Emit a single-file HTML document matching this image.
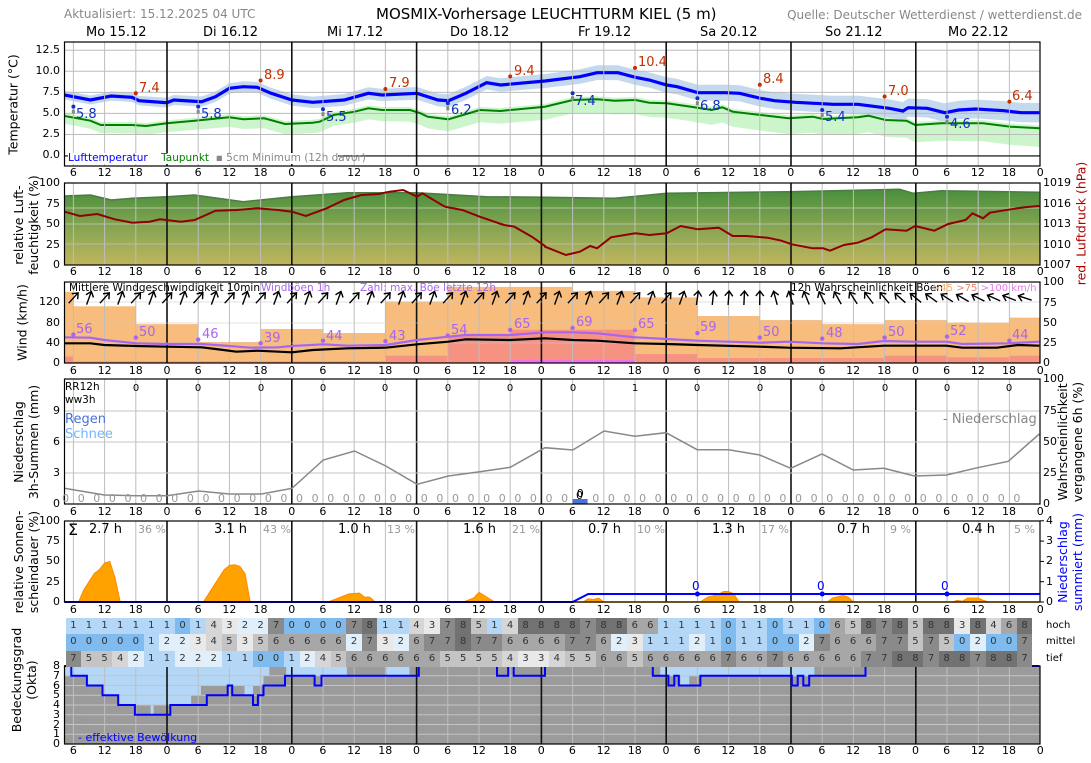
<!DOCTYPE html>
<html><head><meta charset="utf-8">
<style>
body{margin:0;background:#fff;width:1091px;height:763px;overflow:hidden;position:relative;font-family:"DejaVu Sans","Liberation Sans",sans-serif;}
.a{position:absolute;white-space:nowrap;}
.tr{position:absolute;left:57.8px;width:998.4px;display:grid;grid-template-columns:repeat(32,31.2px);text-align:center;font-size:11px;color:#000;line-height:12px;}
.zr{position:absolute;left:57.8px;display:grid;grid-template-columns:repeat(62,15.6px);text-align:center;font-size:11px;color:#999;line-height:12px;}
.cr{position:absolute;left:65.6px;display:grid;grid-template-columns:repeat(62,15.6px);text-align:center;font-size:10px;color:#333;height:16.5px;line-height:16.5px;}
.c0{background:#7fbbee}.c1{background:#b4d7f7}.c2{background:#e0effa}.c3{background:#e9e9e9}.c4{background:#d6d6d6}.c5{background:#c4c4c4}.c6{background:#a7a7a7}.c7{background:#8a8a8a}.c8{background:#727272}
.yl{position:absolute;font-size:11px;text-align:right;width:40px;line-height:12px;}
.yr{position:absolute;font-size:11px;line-height:12px;}
.rot{position:absolute;transform:rotate(-90deg);transform-origin:center center;text-align:center;font-size:12.5px;line-height:15px;white-space:nowrap;}
</style></head><body>
<svg id="s" width="1091" height="763" style="position:absolute;left:0;top:0">
<defs>
<linearGradient id="hg" gradientUnits="userSpaceOnUse" x1="0" y1="190" x2="0" y2="265">
<stop offset="0" stop-color="#4a8f3c"/><stop offset="0.5" stop-color="#86a552"/><stop offset="1" stop-color="#c0b55e"/></linearGradient>
<clipPath id="cp1"><rect x="64.5" y="42" width="975.5" height="114"/></clipPath>
</defs>
<g id="g"></g>
</svg>

<div class="a" style="left:64px;top:7px;font-size:12px;color:#888">Aktualisiert: 15.12.2025 04 UTC</div>
<div class="a" style="left:376px;top:5px;font-size:15px;color:#000">MOSMIX-Vorhersage LEUCHTTURM KIEL (5 m)</div>
<div class="a" style="right:9px;top:8px;font-size:12px;color:#888">Quelle: Deutscher Wetterdienst / wetterdienst.de</div>

<div class="a" style="left:86px;top:25px;font-size:13px">Mo 15.12</div>
<div class="a" style="left:203px;top:25px;font-size:13px">Di 16.12</div>
<div class="a" style="left:327px;top:25px;font-size:13px">Mi 17.12</div>
<div class="a" style="left:450px;top:25px;font-size:13px">Do 18.12</div>
<div class="a" style="left:578px;top:25px;font-size:13px">Fr 19.12</div>
<div class="a" style="left:700px;top:25px;font-size:13px">Sa 20.12</div>
<div class="a" style="left:825px;top:25px;font-size:13px">So 21.12</div>
<div class="a" style="left:948px;top:25px;font-size:13px">Mo 22.12</div>

<div class="tr" style="top:167px"><span>6</span><span>12</span><span>18</span><span>0</span><span>6</span><span>12</span><span>18</span><span>0</span><span>6</span><span>12</span><span>18</span><span>0</span><span>6</span><span>12</span><span>18</span><span>0</span><span>6</span><span>12</span><span>18</span><span>0</span><span>6</span><span>12</span><span>18</span><span>0</span><span>6</span><span>12</span><span>18</span><span>0</span><span>6</span><span>12</span><span>18</span><span>0</span></div>
<div class="tr" style="top:266px"><span>6</span><span>12</span><span>18</span><span>0</span><span>6</span><span>12</span><span>18</span><span>0</span><span>6</span><span>12</span><span>18</span><span>0</span><span>6</span><span>12</span><span>18</span><span>0</span><span>6</span><span>12</span><span>18</span><span>0</span><span>6</span><span>12</span><span>18</span><span>0</span><span>6</span><span>12</span><span>18</span><span>0</span><span>6</span><span>12</span><span>18</span><span>0</span></div>
<div class="tr" style="top:365px"><span>6</span><span>12</span><span>18</span><span>0</span><span>6</span><span>12</span><span>18</span><span>0</span><span>6</span><span>12</span><span>18</span><span>0</span><span>6</span><span>12</span><span>18</span><span>0</span><span>6</span><span>12</span><span>18</span><span>0</span><span>6</span><span>12</span><span>18</span><span>0</span><span>6</span><span>12</span><span>18</span><span>0</span><span>6</span><span>12</span><span>18</span><span>0</span></div>
<div class="tr" style="top:506px"><span>6</span><span>12</span><span>18</span><span>0</span><span>6</span><span>12</span><span>18</span><span>0</span><span>6</span><span>12</span><span>18</span><span>0</span><span>6</span><span>12</span><span>18</span><span>0</span><span>6</span><span>12</span><span>18</span><span>0</span><span>6</span><span>12</span><span>18</span><span>0</span><span>6</span><span>12</span><span>18</span><span>0</span><span>6</span><span>12</span><span>18</span><span>0</span></div>
<div class="tr" style="top:604px"><span>6</span><span>12</span><span>18</span><span>0</span><span>6</span><span>12</span><span>18</span><span>0</span><span>6</span><span>12</span><span>18</span><span>0</span><span>6</span><span>12</span><span>18</span><span>0</span><span>6</span><span>12</span><span>18</span><span>0</span><span>6</span><span>12</span><span>18</span><span>0</span><span>6</span><span>12</span><span>18</span><span>0</span><span>6</span><span>12</span><span>18</span><span>0</span></div>
<div class="tr" style="top:745px"><span>6</span><span>12</span><span>18</span><span>0</span><span>6</span><span>12</span><span>18</span><span>0</span><span>6</span><span>12</span><span>18</span><span>0</span><span>6</span><span>12</span><span>18</span><span>0</span><span>6</span><span>12</span><span>18</span><span>0</span><span>6</span><span>12</span><span>18</span><span>0</span><span>6</span><span>12</span><span>18</span><span>0</span><span>6</span><span>12</span><span>18</span><span>0</span></div>

<div class="zr" style="top:493px"><span>0</span><span>0</span><span>0</span><span>0</span><span>0</span><span>0</span><span>0</span><span>0</span><span>0</span><span>0</span><span>0</span><span>0</span><span>0</span><span>0</span><span>0</span><span>0</span><span>0</span><span>0</span><span>0</span><span>0</span><span>0</span><span>0</span><span>0</span><span>0</span><span>0</span><span>0</span><span>0</span><span>0</span><span>0</span><span>0</span><span>0</span><span>0</span><span>0</span><span style="color:#000;position:relative;top:-5px">0</span><span>0</span><span>0</span><span>0</span><span>0</span><span>0</span><span>0</span><span>0</span><span>0</span><span>0</span><span>0</span><span>0</span><span>0</span><span>0</span><span>0</span><span>0</span><span>0</span><span>0</span><span>0</span><span>0</span><span>0</span><span>0</span><span>0</span><span>0</span><span>0</span><span>0</span><span>0</span><span>0</span><span>0</span></div>

<div class="cr" style="top:617.5px"><span class=c1>1</span><span class=c1>1</span><span class=c1>1</span><span class=c1>1</span><span class=c1>1</span><span class=c1>1</span><span class=c1>1</span><span class=c0>0</span><span class=c1>1</span><span class=c4>4</span><span class=c3>3</span><span class=c2>2</span><span class=c2>2</span><span class=c7>7</span><span class=c0>0</span><span class=c0>0</span><span class=c0>0</span><span class=c0>0</span><span class=c7>7</span><span class=c8>8</span><span class=c1>1</span><span class=c1>1</span><span class=c4>4</span><span class=c3>3</span><span class=c7>7</span><span class=c8>8</span><span class=c5>5</span><span class=c1>1</span><span class=c4>4</span><span class=c8>8</span><span class=c8>8</span><span class=c8>8</span><span class=c8>8</span><span class=c7>7</span><span class=c8>8</span><span class=c8>8</span><span class=c6>6</span><span class=c6>6</span><span class=c1>1</span><span class=c1>1</span><span class=c1>1</span><span class=c1>1</span><span class=c0>0</span><span class=c1>1</span><span class=c1>1</span><span class=c0>0</span><span class=c1>1</span><span class=c1>1</span><span class=c0>0</span><span class=c6>6</span><span class=c5>5</span><span class=c8>8</span><span class=c7>7</span><span class=c8>8</span><span class=c5>5</span><span class=c8>8</span><span class=c8>8</span><span class=c3>3</span><span class=c8>8</span><span class=c4>4</span><span class=c6>6</span><span class=c8>8</span></div>
<div class="cr" style="top:634px"><span class=c0>0</span><span class=c0>0</span><span class=c0>0</span><span class=c0>0</span><span class=c0>0</span><span class=c1>1</span><span class=c2>2</span><span class=c2>2</span><span class=c3>3</span><span class=c4>4</span><span class=c5>5</span><span class=c3>3</span><span class=c5>5</span><span class=c6>6</span><span class=c6>6</span><span class=c6>6</span><span class=c6>6</span><span class=c6>6</span><span class=c2>2</span><span class=c7>7</span><span class=c3>3</span><span class=c2>2</span><span class=c6>6</span><span class=c7>7</span><span class=c7>7</span><span class=c8>8</span><span class=c7>7</span><span class=c7>7</span><span class=c6>6</span><span class=c6>6</span><span class=c6>6</span><span class=c6>6</span><span class=c7>7</span><span class=c7>7</span><span class=c6>6</span><span class=c2>2</span><span class=c3>3</span><span class=c1>1</span><span class=c1>1</span><span class=c1>1</span><span class=c2>2</span><span class=c1>1</span><span class=c0>0</span><span class=c1>1</span><span class=c1>1</span><span class=c0>0</span><span class=c0>0</span><span class=c2>2</span><span class=c7>7</span><span class=c6>6</span><span class=c6>6</span><span class=c6>6</span><span class=c7>7</span><span class=c7>7</span><span class=c5>5</span><span class=c7>7</span><span class=c5>5</span><span class=c0>0</span><span class=c2>2</span><span class=c0>0</span><span class=c0>0</span><span class=c7>7</span></div>
<div class="cr" style="top:650.5px"><span class=c7>7</span><span class=c5>5</span><span class=c5>5</span><span class=c4>4</span><span class=c2>2</span><span class=c1>1</span><span class=c1>1</span><span class=c2>2</span><span class=c2>2</span><span class=c2>2</span><span class=c1>1</span><span class=c1>1</span><span class=c0>0</span><span class=c0>0</span><span class=c1>1</span><span class=c2>2</span><span class=c4>4</span><span class=c5>5</span><span class=c6>6</span><span class=c6>6</span><span class=c6>6</span><span class=c6>6</span><span class=c6>6</span><span class=c6>6</span><span class=c5>5</span><span class=c5>5</span><span class=c5>5</span><span class=c5>5</span><span class=c4>4</span><span class=c3>3</span><span class=c3>3</span><span class=c4>4</span><span class=c5>5</span><span class=c5>5</span><span class=c6>6</span><span class=c6>6</span><span class=c5>5</span><span class=c6>6</span><span class=c6>6</span><span class=c6>6</span><span class=c6>6</span><span class=c6>6</span><span class=c7>7</span><span class=c6>6</span><span class=c6>6</span><span class=c7>7</span><span class=c6>6</span><span class=c6>6</span><span class=c6>6</span><span class=c6>6</span><span class=c6>6</span><span class=c7>7</span><span class=c7>7</span><span class=c8>8</span><span class=c8>8</span><span class=c7>7</span><span class=c8>8</span><span class=c8>8</span><span class=c7>7</span><span class=c8>8</span><span class=c8>8</span><span class=c7>7</span></div>
<div class="a" style="left:1046px;top:620px;font-size:10px">hoch</div>
<div class="a" style="left:1046px;top:636px;font-size:10px">mittel</div>
<div class="a" style="left:1046px;top:653px;font-size:10px">tief</div>

<div class="yl" style="left:20px;top:44px">12.5</div><div class="yl" style="left:20px;top:65px">10.0</div><div class="yl" style="left:20px;top:86px">7.5</div><div class="yl" style="left:20px;top:107px">5.0</div><div class="yl" style="left:20px;top:128px">2.5</div><div class="yl" style="left:20px;top:149px">0.0</div>
<div class="yl" style="left:20px;top:177px">100</div><div class="yl" style="left:20px;top:198px">75</div><div class="yl" style="left:20px;top:218px">50</div><div class="yl" style="left:20px;top:239px">25</div><div class="yl" style="left:20px;top:259px">0</div>
<div class="yl" style="left:20px;top:296px">120</div><div class="yl" style="left:20px;top:317px">80</div><div class="yl" style="left:20px;top:337px">40</div><div class="yl" style="left:20px;top:357px">0</div>
<div class="yl" style="left:20px;top:405px">9</div><div class="yl" style="left:20px;top:436px">6</div><div class="yl" style="left:20px;top:467px">3</div><div class="yl" style="left:20px;top:498px">0</div>
<div class="yl" style="left:20px;top:515px">100</div><div class="yl" style="left:20px;top:535px">75</div><div class="yl" style="left:20px;top:555px">50</div><div class="yl" style="left:20px;top:576px">25</div><div class="yl" style="left:20px;top:596px">0</div>
<div class="yl" style="left:20px;top:660px">8</div><div class="yl" style="left:20px;top:670px">7</div><div class="yl" style="left:20px;top:680px">6</div><div class="yl" style="left:20px;top:689px">5</div><div class="yl" style="left:20px;top:699px">4</div><div class="yl" style="left:20px;top:709px">3</div><div class="yl" style="left:20px;top:719px">2</div><div class="yl" style="left:20px;top:728px">1</div><div class="yl" style="left:20px;top:738px">0</div>

<div class="yr" style="left:1043px;top:177px">1019</div><div class="yr" style="left:1043px;top:198px">1016</div><div class="yr" style="left:1043px;top:218px">1013</div><div class="yr" style="left:1043px;top:239px">1010</div><div class="yr" style="left:1043px;top:259px">1007</div>
<div class="yr" style="left:1043px;top:276px">100</div><div class="yr" style="left:1043px;top:297px">75</div><div class="yr" style="left:1043px;top:317px">50</div><div class="yr" style="left:1043px;top:337px">25</div><div class="yr" style="left:1043px;top:357px">0</div>
<div class="yr" style="left:1043px;top:373px">100</div><div class="yr" style="left:1043px;top:405px">75</div><div class="yr" style="left:1043px;top:436px">50</div><div class="yr" style="left:1043px;top:467px">25</div><div class="yr" style="left:1043px;top:498px">0</div>
<div class="yr" style="left:1046px;top:515px">4</div><div class="yr" style="left:1046px;top:535px">3</div><div class="yr" style="left:1046px;top:555px">2</div><div class="yr" style="left:1046px;top:576px">1</div><div class="yr" style="left:1046px;top:596px">0</div>

<div class="rot" style="left:-47px;top:97px;width:120px">Temperatur (°C)</div>
<div class="rot" style="left:-34px;top:210px;width:120px">relative Luft-<br>feuchtigkeit (%)</div>
<div class="rot" style="left:-28px;top:315px;width:100px">Wind (km/h)</div>
<div class="rot" style="left:-34px;top:427px;width:120px">Niederschlag<br>3h-Summen (mm)</div>
<div class="rot" style="left:-39px;top:547px;width:130px">relative Sonnen-<br>scheindauer (%)</div>
<div class="rot" style="left:-36px;top:665px;width:120px">Bedeckungsgrad<br>(Okta)</div>
<div class="rot" style="left:1016px;top:216px;width:130px;color:#b00000">red. Luftdruck (hPa)</div>
<div class="rot" style="left:1005px;top:427px;width:130px">Wahrscheinlichkeit<br>vergangene 6h (%)</div>
<div class="rot" style="left:1005px;top:547px;width:130px;color:#0000ff">Niederschlag<br>summiert (mm)</div>

<div class="a" style="left:68px;top:153px;font-size:10.5px;background:#fff;width:270px;height:11px;line-height:11px"><span style="color:#0000ff">Lufttemperatur</span> &nbsp; &nbsp;<span style="color:#008000">Taupunkt</span> &nbsp;<span style="color:#888">▪ 5cm Minimum (12h davor)</span></div>
<div class="a" style="left:69px;top:282px;font-size:10.5px">Mittlere Windgeschwindigkeit 10min</div>
<div class="a" style="left:261px;top:282px;font-size:10.5px;color:#a865f0">Windböen 1h</div>
<div class="a" style="left:360px;top:282px;font-size:10.5px;color:#a865f0">Zahl: max. Böe letzte 12h</div>
<div class="a" style="left:791px;top:282px;font-size:10.5px">12h Wahrscheinlichkeit Böen</div>
<div class="a" style="left:932px;top:283px;font-size:10px;font-weight:normal"><span style="color:#f5b070">&gt;45</span> <span style="color:#f08070">&gt;75</span> <span style="color:#e878e8">&gt;100 km/h</span></div>
<div class="a" style="left:65px;top:381px;font-size:10.5px;line-height:13px">RR12h<br>ww3h</div>
<div class="a" style="left:65px;top:412px;font-size:13px;color:#4a72d8">Regen</div>
<div class="a" style="left:65px;top:427px;font-size:13px;color:#72b4ff">Schnee</div>
<div class="a" style="left:943px;top:412px;font-size:13px;color:#888">- Niederschlag</div>
<div class="a" style="left:78px;top:731px;font-size:11px;color:#0000ff">- effektive Bewölkung</div>

<div class="a" style="left:68px;top:520px;font-size:16px">Σ</div>
<div class="a" style="left:89px;top:522px;font-size:13px">2.7 h</div><div class="a" style="left:138px;top:523px;font-size:11px;color:#999">36 %</div>
<div class="a" style="left:214px;top:522px;font-size:13px">3.1 h</div><div class="a" style="left:263px;top:523px;font-size:11px;color:#999">43 %</div>
<div class="a" style="left:338px;top:522px;font-size:13px">1.0 h</div><div class="a" style="left:387px;top:523px;font-size:11px;color:#999">13 %</div>
<div class="a" style="left:463px;top:522px;font-size:13px">1.6 h</div><div class="a" style="left:512px;top:523px;font-size:11px;color:#999">21 %</div>
<div class="a" style="left:588px;top:522px;font-size:13px">0.7 h</div><div class="a" style="left:637px;top:523px;font-size:11px;color:#999">10 %</div>
<div class="a" style="left:712px;top:522px;font-size:13px">1.3 h</div><div class="a" style="left:761px;top:523px;font-size:11px;color:#999">17 %</div>
<div class="a" style="left:837px;top:522px;font-size:13px">0.7 h</div><div class="a" style="left:890px;top:523px;font-size:11px;color:#999">9 %</div>
<div class="a" style="left:962px;top:522px;font-size:13px">0.4 h</div><div class="a" style="left:1014px;top:523px;font-size:11px;color:#999">5 %</div>

<svg width="1091" height="763" style="position:absolute;left:0;top:0" font-family="DejaVu Sans, Liberation Sans, sans-serif">
<g font-size="13" fill="#c03000">
<text x="139" y="92">7.4</text><text x="264" y="79">8.9</text><text x="389" y="87">7.9</text><text x="514" y="75">9.4</text><text x="638" y="66">10.4</text><text x="763" y="83">8.4</text><text x="888" y="95">7.0</text><text x="1012" y="100">6.4</text>
</g>
<g font-size="13" fill="#1030c0">
<text x="76" y="118">5.8</text><text x="201" y="118">5.8</text><text x="326" y="121">5.5</text><text x="451" y="114">6.2</text><text x="575" y="105">7.4</text><text x="700" y="110">6.8</text><text x="825" y="121">5.4</text><text x="950" y="128">4.6</text>
</g>
<g font-size="13" fill="#a865f0">
<text x="76" y="333">56</text><text x="139" y="336">50</text><text x="202" y="338">46</text><text x="264" y="342">39</text><text x="326" y="340">44</text><text x="389" y="340">43</text><text x="451" y="334">54</text><text x="514" y="328">65</text><text x="576" y="326">69</text><text x="638" y="328">65</text><text x="700" y="331">59</text><text x="763" y="336">50</text><text x="826" y="337">48</text><text x="888" y="336">50</text><text x="950" y="335">52</text><text x="1012" y="339">44</text>
</g>
<g font-size="12" fill="#0000ff"><text x="692" y="590">0</text><text x="817" y="590">0</text><text x="941" y="590">0</text></g>
<text x="576" y="499" font-size="11">0</text>
<g font-size="10" fill="#000"><text x="136" y="391" text-anchor="middle">0</text><text x="198" y="391" text-anchor="middle">0</text><text x="261" y="391" text-anchor="middle">0</text><text x="323" y="391" text-anchor="middle">0</text><text x="385" y="391" text-anchor="middle">0</text><text x="448" y="391" text-anchor="middle">0</text><text x="510" y="391" text-anchor="middle">0</text><text x="573" y="391" text-anchor="middle">0</text><text x="635" y="391" text-anchor="middle">1</text><text x="697" y="391" text-anchor="middle">0</text><text x="760" y="391" text-anchor="middle">0</text><text x="822" y="391" text-anchor="middle">0</text><text x="885" y="391" text-anchor="middle">0</text><text x="947" y="391" text-anchor="middle">0</text><text x="1009" y="391" text-anchor="middle">0</text></g>
</svg>

<script>
const g=document.getElementById('g');const NS='http://www.w3.org/2000/svg';
function el(t,a,p){const e=document.createElementNS(NS,t);for(const k in a)e.setAttribute(k,a[k]);(p||g).appendChild(e);return e;}
const X=h=>42.2+5.2*h;const L=64.5,R=1040;
const lx=z=>z/2.877, rx=z=>545+z/2.877;
function conv(Ls,Rs,oy){const o=[];Ls.forEach(p=>o.push([lx(p[0]),oy+p[1]/3]));Rs.forEach(p=>o.push([rx(p[0]),oy+p[1]/3]));return o;}
const ps=a=>a.map(p=>p[0].toFixed(1)+','+p[1].toFixed(1)).join(' ');
const panels=[[42,166],[183,265],[282,363],[379,504],[521,602],[666,744]];

const tb=conv([[185,285],[260,300],[320,288],[380,292],[400,302],[480,308],[500,300],[580,305],[620,290],[660,265],[700,260],[740,262],[780,280],[840,300],[900,307],[990,300],[1060,280],[1100,285],[1200,280],[1260,300],[1290,302],[1340,280],[1400,248],[1440,255],[1568,243]],
[[0,243],[100,230],[150,218],[210,218],[260,232],[300,240],[350,255],[380,260],[440,278],[520,278],[560,280],[620,295],[660,302],[720,307],[830,313],[900,313],[990,325],[1030,333],[1045,323],[1100,325],[1150,338],[1190,330],[1240,327],[1320,332],[1370,338],[1422,338]],0);
const tg=conv([[185,348],[260,362],[290,375],[380,375],[420,378],[480,370],[560,362],[660,352],[700,358],[760,355],[820,372],[900,368],[920,365],[960,345],[1020,335],[1060,325],[1100,330],[1180,330],[1210,340],[1230,350],[1290,358],[1380,330],[1440,333],[1568,320]],
[[0,320],[80,300],[150,298],[200,302],[260,300],[300,308],[350,310],[420,320],[480,330],[510,322],[540,335],[620,345],[700,355],[770,350],[800,357],[900,352],[930,347],[980,360],[1040,362],[1065,375],[1140,370],[1260,370],[1340,380],[1422,385]],0);
const band=(a,up,dn)=>{const u=a.map(p=>[p[0],p[1]-up(p[0])]);const d=a.map(p=>[p[0],p[1]+dn(p[0])]).reverse();return ps(u.concat(d));};
const cl=el('g',{'clip-path':'url(#cp1)'});
el('polygon',{points:band(tg,x=>3,x=>7+x/90),fill:'#ccf5cc'},cl);
el('polygon',{points:band(tb,x=>4+x/180,x=>4+x/180),fill:'#c4d8ee'},cl);
[0,2.5,5,7.5,10,12.5].forEach(v=>{const y=155.5-8.42*v;el('line',{x1:L,x2:R,y1:y,y2:y,stroke:'#bbb','stroke-width':1},cl);});
function vgrid(t,b,par){for(let h=6;h<192;h+=6){const d=h%24==0;el('line',{x1:X(h),x2:X(h),y1:t,y2:b,stroke:d?'#111':'#bdbdbd','stroke-width':d?1.6:1},par||g);}}
vgrid(42,166);
el('polyline',{points:ps(tg),fill:'none',stroke:'#008000','stroke-width':2},cl);
el('polyline',{points:ps(tb),fill:'none',stroke:'#0000ff','stroke-width':3.2},cl);
[[18,7.4],[42,8.9],[66,7.9],[90,9.4],[114,10.4],[138,8.4],[162,7.0],[186,6.4]].forEach(p=>el('circle',{cx:X(p[0]),cy:155.5-8.42*p[1],r:2,fill:'#c03000'}));
[[6,5.8],[30,5.8],[54,5.5],[78,6.2],[102,7.4],[126,6.8],[150,5.4],[174,4.6]].forEach(p=>{el('rect',{x:X(p[0])-1.5,y:155.5-8.42*p[1]+3,width:3,height:4,fill:'#888'});el('circle',{cx:X(p[0]),cy:155.5-8.42*p[1],r:2,fill:'#1030c0'});});
el('line',{x1:L,x2:R,y1:156,y2:156,stroke:'#000'});

const hu=conv([[185,588],[260,585],[320,600],[380,595],[480,590],[560,585],[700,605],[840,590],[1000,578],[1200,578],[1400,590],[1568,592]],[[0,592],[200,595],[350,580],[700,575],[1020,568],[1060,580],[1140,572],[1422,577]],0);
el('polygon',{points:ps(hu)+' 1040,265 64.5,265',fill:'url(#hg)'});
el('polyline',{points:ps(hu),fill:'none',stroke:'#4d7a45','stroke-width':1.5});
[208,224,244].forEach(y=>el('line',{x1:L,x2:R,y1:y,y2:y,stroke:'#b8c0a0','stroke-width':1}));
vgrid(183,265);
const pr=conv([[185,635],[230,648],[280,642],[330,658],[380,668],[430,665],[460,658],[520,665],[560,660],[620,632],[680,630],[740,625],[800,630],[840,635],[880,648],[940,625],[990,600],[1040,585],[1090,582],[1120,575],[1160,570],[1200,590],[1215,580],[1280,620],[1330,630],[1380,650],[1450,675],[1480,680],[1530,710],[1568,738]],
[[0,740],[60,765],[100,755],[130,738],[150,745],[190,712],[260,700],[300,705],[350,700],[390,678],[440,688],[500,683],[540,708],[580,708],[640,713],[680,722],[710,733],[770,745],[800,745],[820,752],[860,735],[900,728],[940,712],[980,688],[1040,692],[1065,678],[1120,692],[1160,672],[1210,660],[1230,640],[1260,655],[1280,638],[1340,628],[1380,622],[1422,618]],0);
el('polyline',{points:ps(pr),fill:'none',stroke:'#900000','stroke-width':2});

const P=p=>363-p*0.81;
[[4.3,6,88],[6,18,70],[18,30,48],[30,42,26],[42,54,42],[54,66,37],[66,78,76],[78,102,94],[102,114,89],[114,126,81],[126,138,58],[138,150,53],[150,162,48],[162,174,53],[174,186,50],[186,192,56]].forEach(b=>el('rect',{x:Math.max(L,X(b[0])),y:P(b[2]),width:Math.min(R,X(b[1]))-Math.max(L,X(b[0])),height:363-P(b[2]),fill:'#f8bc7c'}));
[[4.3,6,8],[6,66,2],[66,78,9],[78,90,34],[90,114,41],[114,126,11],[126,162,6],[162,174,9],[174,186,7],[186,192,9]].forEach(b=>el('rect',{x:Math.max(L,X(b[0])),y:P(b[2]),width:Math.min(R,X(b[1]))-Math.max(L,X(b[0])),height:363-P(b[2]),fill:'#f59282'}));
el('rect',{x:X(90),y:P(4),width:X(114)-X(90),height:363-P(4),fill:'#ee70ee'});
vgrid(282,363);
[302,323,343].forEach(y=>el('line',{x1:L,x2:R,y1:y,y2:y,stroke:'#c8c8c8','stroke-width':0.8,opacity:0.7}));
const gu=conv([[185,187],[260,188],[300,195],[392,205],[480,207],[580,207],[660,213],[720,218],[800,217],[840,213],[930,208],[1000,212],[1110,210],[1200,195],[1290,185],[1340,180],[1468,180],[1568,172]],[[0,172],[80,172],[150,175],[258,187],[350,192],[440,197],[618,203],[700,200],[800,205],[900,207],[975,198],[1060,200],[1155,200],[1200,207],[1333,205],[1422,200]],275);
const mw=conv([[185,205],[260,205],[300,210],[392,213],[480,215],[580,217],[620,222],[680,230],[740,227],[840,232],[900,225],[1000,220],[1110,218],[1200,208],[1290,200],[1340,193],[1468,195],[1568,190]],[[0,190],[80,195],[150,197],[258,205],[350,207],[440,210],[618,215],[700,218],[850,220],[975,212],[1155,212],[1200,218],[1300,218],[1360,210],[1422,212]],275);
el('polyline',{points:ps(gu),fill:'none',stroke:'#a865f0','stroke-width':2.2});
el('polyline',{points:ps(mw),fill:'none',stroke:'#000','stroke-width':2.2});
[[6,56],[18,50],[30,46],[42,39],[54,44],[66,43],[78,54],[90,65],[102,69],[114,65],[126,59],[138,50],[150,48],[162,50],[174,52],[186,44]].forEach(p=>el('circle',{cx:X(p[0]),cy:363-0.508*p[1],r:2.2,fill:'#a865f0'}));
for(let h=6;h<=189;h+=3){let a;const k=(h/3)%2;
 if(h<126)a=k?20:42;else if(h<141)a=8-(h-126)*0.6;else if(h<165)a=-15-(h-141)*1.2;else a=-48-(h-165)*1.0;
 const gg=el('g',{transform:`translate(${X(h)},298) rotate(${a})`});
 el('path',{d:'M0,7 L0,-7 M-4,-2 L0,-7 L4,-2',stroke:'#000','stroke-width':1.4,fill:'none'},gg);}

vgrid(379,504);
[411,442,473].forEach(y=>el('line',{x1:L,x2:R,y1:y,y2:y,stroke:'#c4c4c4','stroke-width':1}));
const pp=conv([[185,640],[300,660],[392,662],[480,662],[572,648],[660,657],[752,657],[840,640],[930,555],[1020,528],[1110,573],[1200,628],[1290,603],[1380,590],[1468,577],[1568,518]],[[80,525],[170,468],[258,484],[348,473],[438,524],[528,524],[618,540],[707,580],[797,537],[887,585],[975,580],[1063,603],[1155,600],[1245,578],[1333,559],[1422,477]],275);
el('polyline',{points:ps(pp),fill:'none',stroke:'#888','stroke-width':1.5});
el('rect',{x:X(102),y:499,width:15,height:5,fill:'#4a72d8'});

vgrid(521,602);
const sun=[[7,0],[8,15],[10,35],[11,40],[12,48],[13,50],[14,30],[15,0],null,[31,0],[33,20],[35,40],[36,45],[37,46],[38,44],[39,35],[40,0],null,[55,0],[57,5],[59,10],[61,11],[62,6],[63,6],[64,0],null,[81,0],[83,5],[84,12],[85,8],[87,0],null,[104,0],[105,4],[106,3],[107,5],[108,0],null,[126.5,0],[128,6],[130,9],[131,13],[132,13],[133,10],[134,0],null,[151,0],[152,5],[154,8],[155,6],[156,0],null,[175,0],[176,2],[177,1],[178,5],[180,5],[181,2],[182,0]];
let cur=[];const flush=()=>{if(cur.length){el('polygon',{points:ps(cur.map(p=>[X(p[0]),602-0.81*p[1]])),fill:'#ffa200',stroke:'#ff8800','stroke-width':1});cur=[];}};
sun.forEach(p=>{if(p)cur.push(p);else flush();});flush();
el('line',{x1:L,x2:R,y1:602,y2:602,stroke:'#ffa200','stroke-width':1.5});
el('polyline',{points:`${L},602 ${X(102)},602 ${X(105)},594 ${R},594`,fill:'none',stroke:'#0000ff','stroke-width':2});
[126,150,174].forEach(h=>el('circle',{cx:X(h),cy:594,r:2.5,fill:'#0000ff'}));
for(let i=0;i<=4;i++){const y=602-i*20.3;el('line',{x1:R,x2:R+4,y1:y,y2:y,stroke:'#000'});}

const O=v=>744-v*9.75;
el('rect',{x:L,y:666,width:R-L,height:78,fill:'#b4d7f7'});
function steps(Ls,Rs){const o=[];Ls.forEach(s=>o.push([lx(s[0]),lx(s[1]),s[2]]));Rs.forEach(s=>o.push([rx(s[0]),rx(s[1]),s[2]]));return o;}
const gt=steps([[185,205,7],[205,250,7],[250,295,6],[295,340,5],[340,388,4],[388,432,4],[432,442,3],[442,490,4],[490,550,4],[550,578,5],[578,655,6],[655,702,6],[702,728,5],[728,758,6],[758,775,7],[775,822,8],[822,998,7],[998,1110,8],[1110,1178,7],[1178,1568,8]],[[0,330,8],[330,388,7],[388,415,6],[415,775,7],[775,1422,8]]);
gt.forEach(s=>el('rect',{x:s[0],y:O(s[2]),width:s[1]-s[0]+0.5,height:744-O(s[2]),fill:'#9b9b9b'}));
for(let v=1;v<8;v++)el('line',{x1:L,x2:R,y1:O(v),y2:O(v),stroke:'#c4c4c4','stroke-width':1});
vgrid(666,744);
const bl=steps([[185,205,8],[205,250,7],[250,295,6],[295,340,5],[340,388,4],[388,490,3],[490,595,4],[595,655,5],[655,668,6],[668,728,5],[728,742,4],[742,758,5],[758,820,6],[820,905,7],[905,925,6],[925,1205,7],[1205,1430,8],[1430,1462,7],[1462,1478,8],[1478,1568,7]],[[0,310,8],[310,355,7],[355,372,6],[372,385,7],[385,447,6],[447,710,7],[710,727,6],[727,743,7],[743,760,6],[760,922,7],[922,1422,8]]);
let d='';bl.forEach((s,i)=>{d+=(i?'L':'M')+s[0].toFixed(1)+','+O(s[2])+'L'+s[1].toFixed(1)+','+O(s[2]);});
el('path',{d:d,fill:'none',stroke:'#0000ff','stroke-width':2});

panels.forEach(p=>el('rect',{x:L,y:p[0],width:R-L,height:p[1]-p[0],fill:'none',stroke:'#000','stroke-width':1.2}));
</script>
</body></html>
